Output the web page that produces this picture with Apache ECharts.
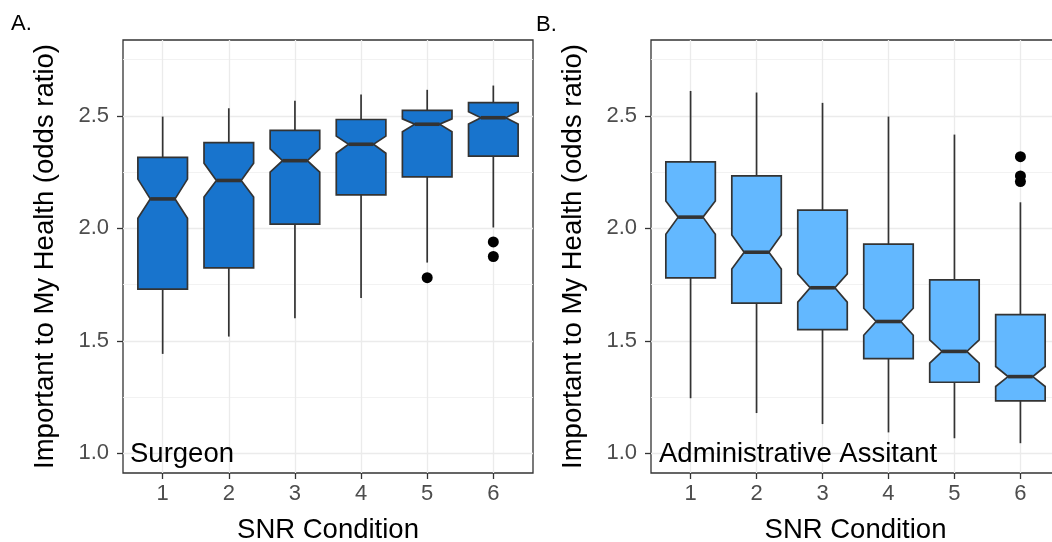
<!DOCTYPE html>
<html>
<head>
<meta charset="utf-8">
<script src="https://cdn.jsdelivr.net/npm/echarts@6/dist/echarts.min.js"></script>
<style>
  html, body { margin: 0; padding: 0; background: #fff; }
  #main { width: 1052px; height: 542px; }
</style>
</head>
<body>
<div id="main"></div>
<script>
var conditions = [1, 2, 3, 4, 5, 6];
var yTicks = [1.0, 1.5, 2.0, 2.5];
var yMinorTicks = [1.25, 1.75, 2.25, 2.75];

// A. Surgeon
var surgeonLow       = [1.442, 1.519, 1.601, 1.690, 1.848, 2.004];
var surgeonQ1        = [1.730, 1.824, 2.019, 2.149, 2.229, 2.321];
var surgeonNotchLow  = [2.045, 2.139, 2.250, 2.334, 2.430, 2.464];
var surgeonMedian    = [2.131, 2.213, 2.301, 2.374, 2.463, 2.492];
var surgeonNotchHigh = [2.219, 2.290, 2.353, 2.410, 2.487, 2.519];
var surgeonQ3        = [2.316, 2.381, 2.436, 2.484, 2.525, 2.559];
var surgeonHigh      = [2.497, 2.534, 2.567, 2.595, 2.616, 2.635];
var surgeonOutliers  = [[5, 1.781], [6, 1.940], [6, 1.875]];

// B. Administrative Assitant
var assistantLow       = [1.245, 1.179, 1.130, 1.093, 1.067, 1.045];
var assistantQ1        = [1.780, 1.668, 1.550, 1.421, 1.316, 1.233];
var assistantNotchLow  = [1.974, 1.819, 1.672, 1.525, 1.401, 1.297];
var assistantMedian    = [2.050, 1.894, 1.736, 1.586, 1.453, 1.341];
var assistantNotchHigh = [2.122, 1.971, 1.798, 1.645, 1.504, 1.386];
var assistantQ3        = [2.296, 2.233, 2.081, 1.930, 1.771, 1.617];
var assistantHigh      = [2.611, 2.604, 2.558, 2.497, 2.417, 2.116];
var assistantOutliers  = [[6, 2.319], [6, 2.233], [6, 2.208]];

var FONT = "'Liberation Sans', Arial, sans-serif";
var EDGE = '#333333';
var GRIDC = '#EBEBEB';

function boxRows(low, q1, nlo, med, nhi, q3, high) {
    return conditions.map(function(c, i){
        return [c, low[i], q1[i], nlo[i], med[i], nhi[i], q3[i], high[i]];
    });
}

function renderNotchBox(fill) {
    return function(params, api){
        var x = api.value(0);
        var hw = 0.375, nw = 0.1875;
        var lo = api.value(1), q1 = api.value(2), nlo = api.value(3), med = api.value(4),
            nhi = api.value(5), q3 = api.value(6), hi = api.value(7);
        var pts = [
            [x - hw, q1], [x - hw, nlo], [x - nw, med], [x - hw, nhi], [x - hw, q3],
            [x + hw, q3], [x + hw, nhi], [x + nw, med], [x + hw, nlo], [x + hw, q1]
        ].map(function(p){ return api.coord(p); });
        var top = api.coord([x, hi]), q3p = api.coord([x, q3]);
        var q1p = api.coord([x, q1]), bot = api.coord([x, lo]);
        var ml = api.coord([x - nw, med]), mr = api.coord([x + nw, med]);
        return {
            type: 'group',
            children: [
                { type: 'line', shape: { x1: top[0], y1: top[1], x2: q3p[0], y2: q3p[1] },
                  style: { stroke: EDGE, lineWidth: 1.7 } },
                { type: 'line', shape: { x1: q1p[0], y1: q1p[1], x2: bot[0], y2: bot[1] },
                  style: { stroke: EDGE, lineWidth: 1.7 } },
                { type: 'polygon', shape: { points: pts },
                  style: { fill: fill, stroke: EDGE, lineWidth: 1.7 } },
                { type: 'line', shape: { x1: ml[0], y1: ml[1], x2: mr[0], y2: mr[1] },
                  style: { stroke: EDGE, lineWidth: 3.6 } }
            ]
        };
    };
}

function xAxisFor(gridIndex) {
    return {
        type: 'value', gridIndex: gridIndex, min: 0.4, max: 6.6,
        name: 'SNR Condition', nameLocation: 'middle', nameGap: 43,
        nameTextStyle: { fontSize: 27.5, color: '#000', fontFamily: FONT },
        axisLine: { show: false },
        axisTick: { show: true, length: 6, customValues: conditions, lineStyle: { color: EDGE, width: 1.3 } },
        axisLabel: { customValues: conditions, fontSize: 22, color: '#4D4D4D', fontFamily: FONT, margin: 10 },
        splitLine: { show: true, lineStyle: { color: GRIDC, width: 1.3 } }
    };
}

function yAxisFor(gridIndex, gap) {
    return {
        type: 'value', gridIndex: gridIndex, min: 0.9125, max: 2.8375, position: 'left',
        name: 'Important to My Health (odds ratio)', nameLocation: 'middle', nameGap: gap,
        nameTextStyle: { fontSize: 27.5, color: '#000', fontFamily: FONT },
        axisLine: { show: false },
        axisTick: { show: true, length: 6, customValues: yTicks, lineStyle: { color: EDGE, width: 1.3 } },
        axisLabel: { customValues: yTicks, fontSize: 22, color: '#4D4D4D', fontFamily: FONT, margin: 14,
                     formatter: function(v){ return v.toFixed(1); } },
        splitLine: { show: true, lineStyle: { color: GRIDC, width: 1.3 } }
    };
}

function yMinorAxisFor(gridIndex) {
    return {
        type: 'value', gridIndex: gridIndex, min: 0.9125, max: 2.8375, position: 'left',
        axisLine: { show: false },
        axisTick: { show: false, customValues: yMinorTicks },
        axisLabel: { show: false },
        splitLine: { show: true, lineStyle: { color: '#F0F0F0', width: 0.9 } }
    };
}

var option = {
    backgroundColor: '#fff',
    animation: false,
    grid: [
        { left: 123, top: 40, width: 410, height: 433, outerBoundsMode: 'none',
          show: true, borderColor: EDGE, borderWidth: 1.3, backgroundColor: '#fff' },
        { left: 651, top: 40, width: 409, height: 433, outerBoundsMode: 'none',
          show: true, borderColor: EDGE, borderWidth: 1.3, backgroundColor: '#fff' }
    ],
    xAxis: [xAxisFor(0), xAxisFor(1)],
    yAxis: [yAxisFor(0, 64), yMinorAxisFor(0), yAxisFor(1, 64), yMinorAxisFor(1)],
    graphic: [
        { type: 'text', x: 11, y: 24, style: { text: 'A.', fontSize: 22, fontFamily: FONT, fill: '#000', verticalAlign: 'middle' } },
        { type: 'text', x: 536, y: 25, style: { text: 'B.', fontSize: 22, fontFamily: FONT, fill: '#000', verticalAlign: 'middle' } },
        { type: 'text', x: 130, y: 454, z: 10, style: { text: 'Surgeon', fontSize: 27.5, fontFamily: FONT, fill: '#000', verticalAlign: 'middle' } },
        { type: 'text', x: 659, y: 454, z: 10, style: { text: 'Administrative Assitant', fontSize: 27.5, fontFamily: FONT, fill: '#000', verticalAlign: 'middle' } }
    ],
    series: [
        {
            type: 'custom', xAxisIndex: 0, yAxisIndex: 0,
            renderItem: renderNotchBox('#1874CD'),
            encode: { x: 0, y: [1, 2, 3, 4, 5, 6, 7] },
            data: boxRows(surgeonLow, surgeonQ1, surgeonNotchLow, surgeonMedian, surgeonNotchHigh, surgeonQ3, surgeonHigh)
        },
        {
            type: 'scatter', xAxisIndex: 0, yAxisIndex: 0, symbolSize: 11,
            itemStyle: { color: '#000', opacity: 1 }, data: surgeonOutliers
        },
        {
            type: 'custom', xAxisIndex: 1, yAxisIndex: 2,
            renderItem: renderNotchBox('#63B8FF'),
            encode: { x: 0, y: [1, 2, 3, 4, 5, 6, 7] },
            data: boxRows(assistantLow, assistantQ1, assistantNotchLow, assistantMedian, assistantNotchHigh, assistantQ3, assistantHigh)
        },
        {
            type: 'scatter', xAxisIndex: 1, yAxisIndex: 2, symbolSize: 11,
            itemStyle: { color: '#000', opacity: 1 }, data: assistantOutliers
        }
    ]
};

var myChart = echarts.init(document.getElementById('main'), null, { renderer: 'canvas' });
myChart.setOption(option);
</script>
</body>
</html>
